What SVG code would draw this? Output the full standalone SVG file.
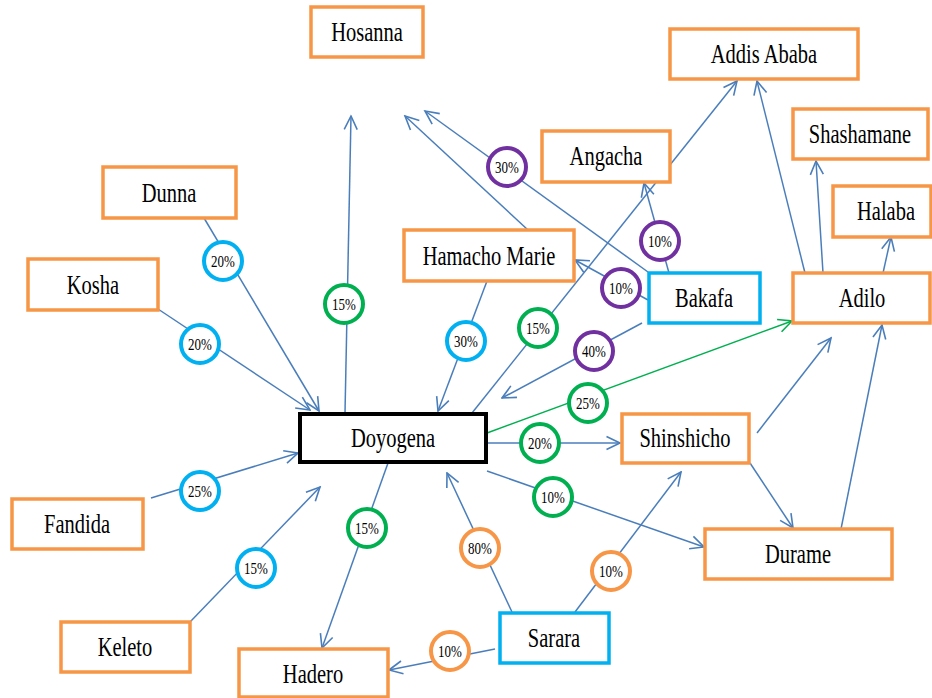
<svg xmlns="http://www.w3.org/2000/svg" width="932" height="698" viewBox="0 0 932 698">
<defs>
<marker id="ab" markerUnits="userSpaceOnUse" markerWidth="16" markerHeight="16" viewBox="0 0 16 16" refX="14.5" refY="8" orient="auto">
<path d="M1,1.5 L14.5,8 L1,14.5" fill="none" stroke="#4A7EBB" stroke-width="1.6"/>
</marker>
<marker id="ag" markerUnits="userSpaceOnUse" markerWidth="16" markerHeight="16" viewBox="0 0 16 16" refX="14.5" refY="8" orient="auto">
<path d="M1,1.5 L14.5,8 L1,14.5" fill="none" stroke="#00B050" stroke-width="1.6"/>
</marker>
</defs>
<style>
.box{fill:#fff;stroke:#F79646;stroke-width:3.5}
.boxc{fill:#fff;stroke:#00B0F0;stroke-width:3.5}
.boxk{fill:#fff;stroke:#000;stroke-width:4}
.t{font-family:"Liberation Serif","Times New Roman",serif;font-size:20.5px;text-anchor:middle;fill:#000}
.p{font-family:"Liberation Serif","Times New Roman",serif;font-size:13px;text-anchor:middle;fill:#000}
.ln{fill:none;stroke:#4A7EBB;stroke-width:1.5;marker-end:url(#ab)}
.lnp{fill:none;stroke:#4A7EBB;stroke-width:1.5}
.lg{fill:none;stroke:#00B050;stroke-width:1.5;marker-end:url(#ag)}
.c{fill:#fff;stroke-width:4}
.cc{stroke:#00B0F0}.cg{stroke:#00B050}.cp{stroke:#7030A0}.co{stroke:#F79646}
</style>
<rect width="932" height="698" fill="#fff"/>
<g id="connectors">
<path class="ln" d="M204,218 L319,411"/>
<path class="ln" d="M158,309 L310,410"/>
<path class="ln" d="M345,413 L351,116"/>
<path class="ln" d="M528,230 L405,116"/>
<path class="ln" d="M648,272 L425,111"/>
<path class="ln" d="M669,273 L644,183"/>
<path class="ln" d="M648,300 L575,260"/>
<path class="ln" d="M642,323 L502,398"/>
<path class="ln" d="M487,281 L438,411"/>
<path class="ln" d="M472,413 L737,81"/>
<path class="ln" d="M805,273 L757,81"/>
<path class="ln" d="M823,273 L816,161"/>
<path class="ln" d="M883,273 L891,237"/>
<path class="lg" d="M487,433 L792,321"/>
<path class="ln" d="M487,443 L620,443"/>
<path class="ln" d="M487,471 L704,547"/>
<path class="ln" d="M750,463 L793,528"/>
<path class="ln" d="M757,433 L831,338"/>
<path class="ln" d="M841,529 L882,325"/>
<path class="ln" d="M151,498 L298,453"/>
<path class="ln" d="M190,622 L320,487"/>
<path class="ln" d="M388,463 L322,648"/>
<path class="ln" d="M495,649 L389,670"/>
<path class="ln" d="M512,612 L447,473"/>
<path class="ln" d="M575,612 L681,472"/>
</g>
<g id="labels">
<g><circle class="c cc" cx="223" cy="261" r="19"/><text class="p" transform="translate(223,261) scale(1,1.33)" y="4.4">20%</text></g>
<g><circle class="c cc" cx="200" cy="344" r="19"/><text class="p" transform="translate(200,344) scale(1,1.33)" y="4.4">20%</text></g>
<g><circle class="c cg" cx="344" cy="304" r="19"/><text class="p" transform="translate(344,304) scale(1,1.33)" y="4.4">15%</text></g>
<g><circle class="c cp" cx="507" cy="167" r="19"/><text class="p" transform="translate(507,167) scale(1,1.33)" y="4.4">30%</text></g>
<g><circle class="c cp" cx="660" cy="241" r="19"/><text class="p" transform="translate(660,241) scale(1,1.33)" y="4.4">10%</text></g>
<g><circle class="c cp" cx="621" cy="288" r="19"/><text class="p" transform="translate(621,288) scale(1,1.33)" y="4.4">10%</text></g>
<g><circle class="c cp" cx="594" cy="351" r="19"/><text class="p" transform="translate(594,351) scale(1,1.33)" y="4.4">40%</text></g>
<g><circle class="c cc" cx="466" cy="341" r="19"/><text class="p" transform="translate(466,341) scale(1,1.33)" y="4.4">30%</text></g>
<g><circle class="c cg" cx="538" cy="328" r="19"/><text class="p" transform="translate(538,328) scale(1,1.33)" y="4.4">15%</text></g>
<g><circle class="c cg" cx="588" cy="403" r="19"/><text class="p" transform="translate(588,403) scale(1,1.33)" y="4.4">25%</text></g>
<g><circle class="c cg" cx="540" cy="443" r="19"/><text class="p" transform="translate(540,443) scale(1,1.33)" y="4.4">20%</text></g>
<g><circle class="c cg" cx="553" cy="497" r="19"/><text class="p" transform="translate(553,497) scale(1,1.33)" y="4.4">10%</text></g>
<g><circle class="c cc" cx="200" cy="491" r="19"/><text class="p" transform="translate(200,491) scale(1,1.33)" y="4.4">25%</text></g>
<g><circle class="c cc" cx="256" cy="568" r="19"/><text class="p" transform="translate(256,568) scale(1,1.33)" y="4.4">15%</text></g>
<g><circle class="c cg" cx="367" cy="528" r="19"/><text class="p" transform="translate(367,528) scale(1,1.33)" y="4.4">15%</text></g>
<g><circle class="c co" cx="480" cy="548" r="19"/><text class="p" transform="translate(480,548) scale(1,1.33)" y="4.4">80%</text></g>
<g><circle class="c co" cx="450" cy="651" r="19"/><text class="p" transform="translate(450,651) scale(1,1.33)" y="4.4">10%</text></g>
<g><circle class="c co" cx="611" cy="571" r="19"/><text class="p" transform="translate(611,571) scale(1,1.33)" y="4.4">10%</text></g>
</g>
<g id="hosanna"><rect class="box" x="311" y="7" width="112" height="50"/><text class="t" transform="translate(367,32) scale(1,1.38)" y="6.8">Hosanna</text></g>
<g id="addis-ababa"><rect class="box" x="670" y="29" width="188" height="50"/><text class="t" transform="translate(764,54) scale(1,1.38)" y="6.8">Addis Ababa</text></g>
<g id="angacha"><rect class="box" x="542" y="131" width="128" height="51"/><text class="t" transform="translate(606,156) scale(1,1.38)" y="6.8">Angacha</text></g>
<g id="shashamane"><rect class="box" x="793" y="109" width="135" height="50"/><text class="t" transform="translate(860,134) scale(1,1.38)" y="6.8">Shashamane</text></g>
<g id="halaba"><rect class="box" x="833" y="186" width="98" height="51"/><text class="t" transform="translate(886,211) scale(1,1.38)" y="6.8">Halaba</text></g>
<g id="adilo"><rect class="box" x="793" y="273" width="137" height="50"/><text class="t" transform="translate(862,298) scale(1,1.38)" y="6.8">Adilo</text></g>
<g id="bakafa"><rect class="boxc" x="649" y="273" width="111" height="50"/><text class="t" transform="translate(704,298) scale(1,1.38)" y="6.8">Bakafa</text></g>
<g id="hamacho-marie"><rect class="box" x="404" y="230" width="170" height="51"/><text class="t" transform="translate(489,256) scale(1,1.38)" y="6.8">Hamacho Marie</text></g>
<g id="dunna"><rect class="box" x="103" y="167" width="133" height="51"/><text class="t" transform="translate(169,193) scale(1,1.38)" y="6.8">Dunna</text></g>
<g id="kosha"><rect class="box" x="28" y="259" width="130" height="51"/><text class="t" transform="translate(93,285) scale(1,1.38)" y="6.8">Kosha</text></g>
<g id="doyogena"><rect class="boxk" x="300" y="414" width="186" height="48"/><text class="t" transform="translate(393,438) scale(1,1.38)" y="6.8">Doyogena</text></g>
<g id="fandida"><rect class="box" x="12" y="499" width="131" height="50"/><text class="t" transform="translate(77,524) scale(1,1.38)" y="6.8">Fandida</text></g>
<g id="keleto"><rect class="box" x="61" y="622" width="129" height="50"/><text class="t" transform="translate(125,647) scale(1,1.38)" y="6.8">Keleto</text></g>
<g id="hadero"><rect class="box" x="239" y="649" width="149" height="48"/><text class="t" transform="translate(313,674) scale(1,1.38)" y="6.8">Hadero</text></g>
<g id="shinshicho"><rect class="box" x="622" y="414" width="127" height="49"/><text class="t" transform="translate(685,438) scale(1,1.38)" y="6.8">Shinshicho</text></g>
<g id="durame"><rect class="box" x="705" y="529" width="187" height="50"/><text class="t" transform="translate(798,554) scale(1,1.38)" y="6.8">Durame</text></g>
<g id="sarara"><rect class="boxc" x="500" y="613" width="109" height="50"/><text class="t" transform="translate(554,638) scale(1,1.38)" y="6.8">Sarara</text></g>
</svg>
